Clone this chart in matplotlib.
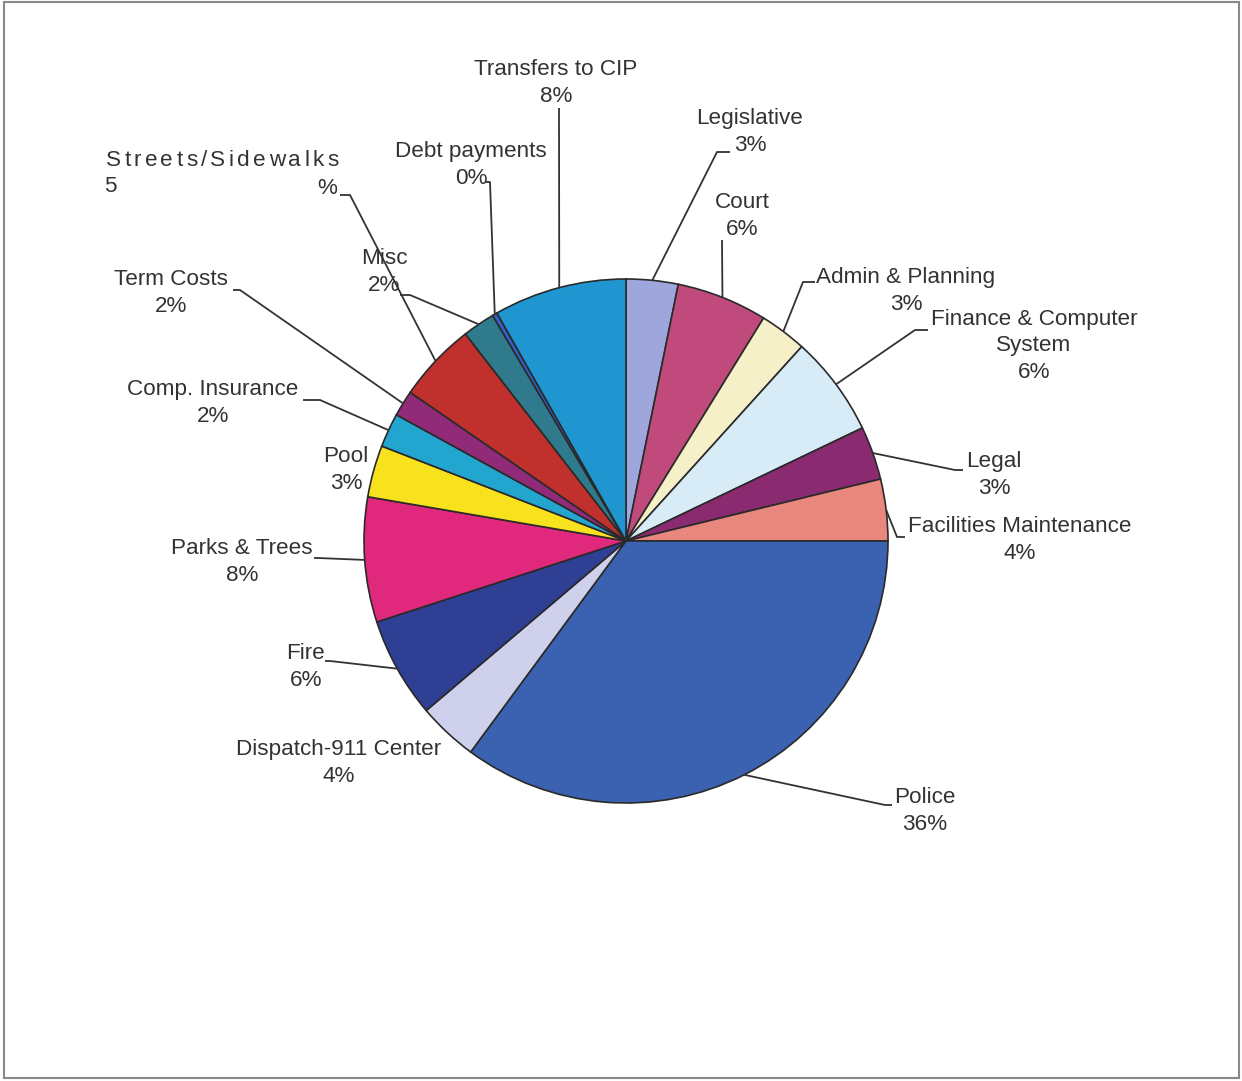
import numpy as np
import matplotlib
matplotlib.use("Agg")
import matplotlib.pyplot as plt
from matplotlib.patches import Rectangle

# ---------------- data ----------------
categories = ["Legislative", "Court", "Admin & Planning", "Finance & Computer System",
              "Legal", "Facilities Maintenance", "Police", "Dispatch-911 Center", "Fire",
              "Parks & Trees", "Pool", "Comp. Insurance", "Term Costs", "Streets/Sidewalks",
              "Misc", "Debt payments", "Transfers to CIP"]
values = [3.2, 5.6, 2.9, 6.2, 3.3, 3.8, 35.1, 3.7, 6.2, 7.7, 3.2, 2.1, 1.6, 4.9, 2.0, 0.3, 8.2]
pct_labels = ["3%", "6%", "3%", "6%", "3%", "4%", "36%", "4%", "6%", "8%", "3%", "2%", "2%",
              "5%", "2%", "0%", "8%"]
label_texts = ["Legislative", "Court", "Admin & Planning", "Finance & Computer\nSystem",
               "Legal", "Facilities Maintenance", "Police", "Dispatch-911 Center", "Fire",
               "Parks & Trees", "Pool", "Comp. Insurance", "Term Costs", None,
               "Misc", "Debt payments", "Transfers to CIP"]
colors = ["#9ea6dc", "#c04a7c", "#f5f0c8", "#d8ecf8", "#8a2a70", "#e8877e", "#3a62b0",
          "#cfd0ec", "#2e3f94", "#e0287c", "#f8e21e", "#22a6d0", "#922a7a", "#c0302c",
          "#2f7a8c", "#3060c8", "#2096d0"]

# ---------------- layout (pixel coords) ----------------
W, H = 1242, 1081
CX, CY, R = 626, 541, 262
label_pos = [(750, 132), (742, 216), (906, 291), (1034, 346), (994, 475), (1020, 540),
             (925, 811), (339, 763), (306, 667), (242, 562), (346, 470), (213, 403),
             (171, 293), None, (384, 272), (471, 165), (556, 83)]
leaders = [[(717, 152), (730, 152)], [(722, 240)], [(803, 282), (815, 282)],
           [(915, 330), (928, 330)], [(955, 470), (963, 470)], [(897, 537), (905, 537)],
           [(885, 805), (892, 805)], None, [(330, 661), (325, 661)],
           [(318, 558), (314, 558)], None, [(320, 400), (303, 400)],
           [(240, 290), (233, 290)], [(350, 195), (340, 195)], [(410, 295), (400, 295)],
           [(490, 182), (486, 182)], [(559, 108)]]

TXT = "#333333"
FS = 16.2
FAM = ["Liberation Sans", "DejaVu Sans"]

fig = plt.figure(figsize=(W / 100, H / 100), dpi=100)
ax = fig.add_axes([0, 0, 1, 1])

def Y(yp):
    return H - yp

ax.pie(values, colors=colors, startangle=90, counterclock=False,
       center=(CX, Y(CY)), radius=R, frame=True,
       wedgeprops=dict(edgecolor="#2a2a2a", linewidth=1.2))
ax.set_xlim(0, W)
ax.set_ylim(0, H)
ax.set_aspect("equal")
ax.axis("off")

# leader lines
cum = np.cumsum([0] + values)
total = cum[-1]
for i, v in enumerate(values):
    if leaders[i] is None:
        continue
    mid = (cum[i] + cum[i + 1]) / 2 / total * 2 * np.pi
    ex = CX + R * np.sin(mid)
    ey = CY - R * np.cos(mid)
    pts = [(ex, ey)] + leaders[i]
    ax.plot([p[0] for p in pts], [Y(p[1]) for p in pts], color="#333333", lw=1.3,
            solid_capstyle="butt", zorder=3)

# labels
for i, t in enumerate(label_texts):
    if t is None or label_pos[i] is None:
        continue
    x, y = label_pos[i]
    ax.text(x, Y(y), t + "\n" + pct_labels[i], ha="center", va="center",
            fontsize=FS, color=TXT, family=FAM, linespacing=1.32, zorder=4)

# Streets/Sidewalks label (letter-spaced, broken layout as in original)
fig.canvas.draw()
renderer = fig.canvas.get_renderer()
word = categories[13]
tracking = 3.3
x0 = 106
for ch in word:
    t = ax.text(x0, Y(160), ch, ha="left", va="center", fontsize=FS, color=TXT, family=FAM)
    bb = t.get_window_extent(renderer=renderer)
    x0 += bb.width + tracking
ax.text(104, Y(186), pct_labels[13][:-1], ha="left", va="center",
        fontsize=FS, color=TXT, family=FAM)
ax.text(327, Y(188), "%", ha="center", va="center", fontsize=FS, color=TXT, family=FAM)

# page frame
fig.patches.append(Rectangle((4 / W, 3 / H), (W - 7) / W, (H - 5) / H,
                             transform=fig.transFigure, fill=False,
                             edgecolor="#8a8a8a", linewidth=1.5))

fig.savefig("out.png", dpi=100, facecolor="white")
